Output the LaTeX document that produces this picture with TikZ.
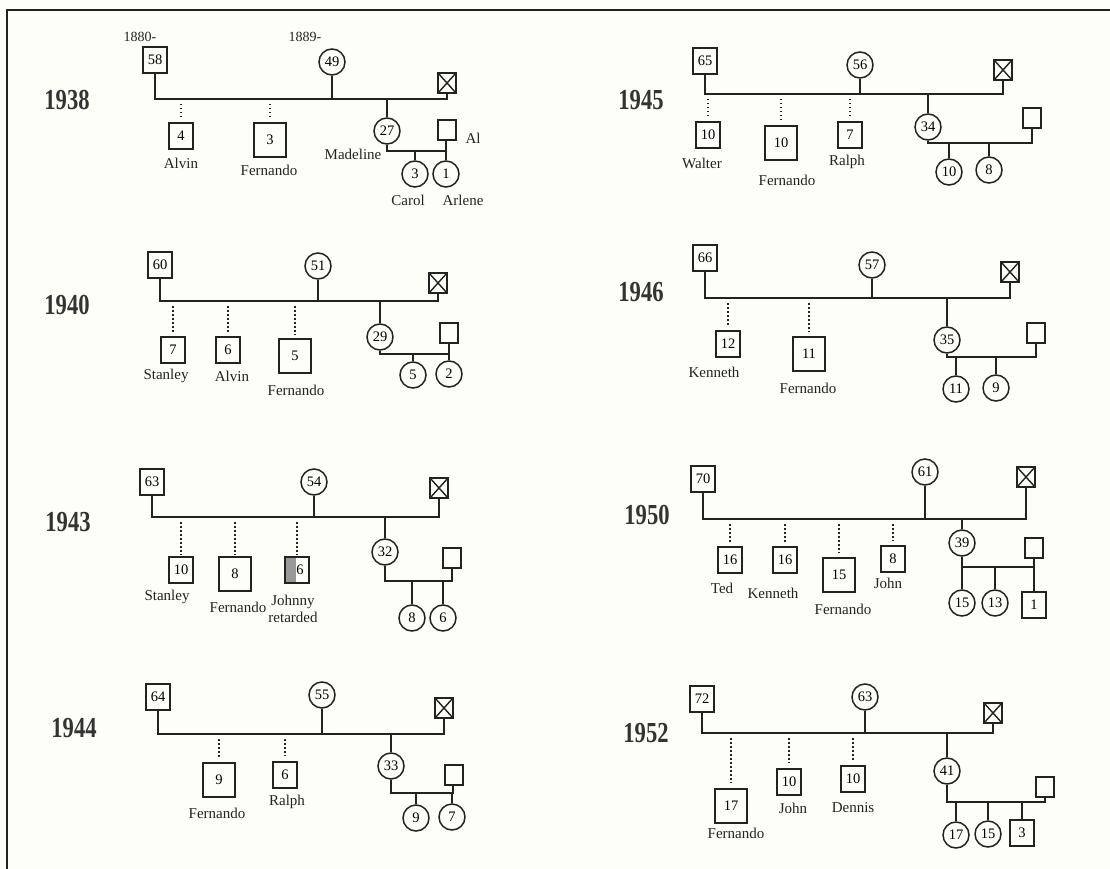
\documentclass[tikz,border=0pt]{standalone}
\usepackage{fontspec}
\setmainfont{Liberation Serif}
\usepackage{graphicx}
\usepackage{tikz}
\usetikzlibrary{positioning,calc}
\definecolor{paper}{HTML}{FEFEF8}
\definecolor{ink}{HTML}{222222}
\newcommand{\yearlab}[1]{\scalebox{0.78}[1]{\fontsize{29}{30}\selectfont\bfseries #1}}
\tikzset{
  male/.style={draw=ink, line width=1.5pt, minimum width=24pt, minimum height=26pt, inner sep=0pt, font=\fontsize{14.5}{14}\selectfont},
  malebig/.style={male, minimum width=32pt, minimum height=34pt},
  female/.style={circle, draw=ink, line width=1.5pt, minimum size=26pt, inner sep=0pt, font=\fontsize{14.5}{14}\selectfont},
  spouse/.style={male, minimum width=18pt, minimum height=20pt},
  dead/.style={spouse, path picture={\draw[ink, line width=1.4pt] (path picture bounding box.north west) -- (path picture bounding box.south east) (path picture bounding box.north east) -- (path picture bounding box.south west);}},
  slow/.style={male, path picture={\fill[black!40] (path picture bounding box.north west) rectangle ([xshift=-1pt]path picture bounding box.south);}},
  tie/.style={draw=ink, line width=1.5pt},
  sibdots/.style={draw=ink, line width=1.6pt, dash pattern=on 1.5pt off 2.5pt},
  who/.style={font=\fontsize{15}{17}\selectfont, inner sep=0pt, text=ink, align=center},
  born/.style={font=\fontsize{14}{14}\selectfont, inner sep=0pt, text=ink},
  year/.style={inner sep=0pt, text=black!80}
}

\begin{document}
\begin{tikzpicture}[x=1pt, y=-1pt]
  \useasboundingbox[fill=paper] (0,0) rectangle (1110,869);
  \draw[ink, line width=1.6pt] (7,869) -- (7,10) -- (1110,10);

  % 1938
  \node[year] (y38) at (67,100) {\yearlab{1938}};
  \node[male] (f38) at (155,60) {58};
  \node[born] (b38f) at (140,37) {1880-};
  \node[female] (m38) at (332,62) {49};
  \node[born] (b38m) at (305,37) {1889-};
  \node[dead] (x38) at (447,83) {};
  \coordinate (h38) at (447,99);
  \node[male] (c38a) at (181,136) {4};
  \node[who] (n38a) at (181,163) {Alvin};
  \node[malebig] (c38b) at (270,140) {3};
  \node[who] (n38b) at (269,170) {Fernando};
  \node[female] (d38) at (387,131) {27};
  \node[who] (n38d) at (353,154) {Madeline};
  \node[spouse] (s38) at (447,130) {};
  \node[who] (n38s) at (473,138) {Al};
  \coordinate (k38) at (446,151);
  \node[female] (g38a) at (415,174) {3};
  \node[female] (g38b) at (446,174) {1};
  \node[who] (n38g) at (408,200) {Carol};
  \node[who] (n38h) at (463,200) {Arlene};

  \draw[tie] (f38) |- (h38) -- (x38);
  \draw[tie] (m38) -- (m38 |- h38);
  \draw[tie] (d38) -- (d38 |- h38);
  \foreach \c in {c38a,c38b}
    \draw[sibdots] ([yshift=-5pt]\c |- h38) -- ([yshift=5pt]\c.north);
  \draw[tie] (d38) |- (k38) -- (k38 |- s38.south);
  \draw[tie] (g38a) -- (g38a |- k38);
  \draw[tie] (g38b) -- (g38b |- k38);

  % 1940
  \node[year] (y40) at (67,305) {\yearlab{1940}};
  \node[male] (f40) at (160,265) {60};
  \node[female] (m40) at (318,266) {51};
  \node[dead] (x40) at (438,283) {};
  \coordinate (h40) at (438,301);
  \node[male] (c40a) at (173,350) {7};
  \node[who] (n40a) at (166,376) {Stanley};
  \node[male] (c40b) at (228,350) {6};
  \node[who] (n40b) at (232,376) {Alvin};
  \node[malebig] (c40c) at (295,356) {5};
  \node[who] (n40c) at (296,390) {Fernando};
  \node[female] (d40) at (380,337) {29};
  \node[spouse] (s40) at (449,333) {};
  \coordinate (k40) at (449,354);
  \node[female] (g40a) at (413,375) {5};
  \node[female] (g40b) at (449,374) {2};

  \draw[tie] (f40) |- (h40) -- (x40);
  \draw[tie] (m40) -- (m40 |- h40);
  \draw[tie] (d40) -- (d40 |- h40);
  \foreach \c in {c40a,c40b,c40c}
    \draw[sibdots] ([yshift=-5pt]\c |- h40) -- ([yshift=4pt]\c.north);
  \draw[tie] (d40) |- (k40) -- (s40);
  \draw[tie] (g40a) -- (g40a |- k40);
  \draw[tie] (g40b) -- (g40b |- k40);

  % 1943
  \node[year] (y43) at (68,522) {\yearlab{1943}};
  \node[male] (f43) at (152,482) {63};
  \node[female] (m43) at (314,482) {54};
  \node[dead] (x43) at (439,488) {};
  \coordinate (h43) at (439,517);
  \node[male] (c43a) at (181,570) {10};
  \node[who] (n43a) at (167,597) {Stanley};
  \node[malebig] (c43b) at (235,574) {8};
  \node[who] (n43b) at (238,607) {Fernando};
  \node[slow] (c43c) at (297,570) {\hspace{6pt}6};
  \node[who] (n43c) at (293,609) {Johnny\\retarded};
  \node[female] (d43) at (385,552) {32};
  \node[spouse] (s43) at (452,558) {};
  \coordinate (k43) at (452,581);
  \node[female] (g43a) at (412,618) {8};
  \node[female] (g43b) at (443,618) {6};

  \draw[tie] (f43) |- (h43) -- (x43);
  \draw[tie] (m43) -- (m43 |- h43);
  \draw[tie] (d43) -- (d43 |- h43);
  \foreach \c in {c43a,c43b,c43c}
    \draw[sibdots] ([yshift=-5pt]\c |- h43) -- ([yshift=2pt]\c.north);
  \draw[tie] (d43) |- (k43) -- (s43);
  \draw[tie] (g43a) -- (g43a |- k43);
  \draw[tie] (g43b) -- (g43b |- k43);

  % 1944
  \node[year] (y44) at (74,728) {\yearlab{1944}};
  \node[male] (f44) at (158,697) {64};
  \node[female] (m44) at (322,695) {55};
  \node[dead] (x44) at (444,708) {};
  \coordinate (h44) at (444,734);
  \node[malebig] (c44a) at (219,780) {9};
  \node[who] (n44a) at (217,813) {Fernando};
  \node[male] (c44b) at (285,775) {6};
  \node[who] (n44b) at (287,802) {Ralph};
  \node[female] (d44) at (391,766) {33};
  \node[spouse] (s44) at (454,775) {};
  \coordinate (k44) at (453,793);
  \node[female] (g44a) at (416,818) {9};
  \node[female] (g44b) at (452,817) {7};

  \draw[tie] (f44) |- (h44) -- (x44);
  \draw[tie] (m44) -- (m44 |- h44);
  \draw[tie] (d44) -- (d44 |- h44);
  \foreach \c in {c44a,c44b}
    \draw[sibdots] ([yshift=-5pt]\c |- h44) -- ([yshift=5pt]\c.north);
  \draw[tie] (d44) |- (k44) -- (k44 |- s44.south);
  \draw[tie] (g44a) -- (g44a |- k44);
  \draw[tie] (g44b) -- (g44b |- k44);

  % 1945
  \node[year] (y45) at (641,100) {\yearlab{1945}};
  \node[male] (f45) at (705,61) {65};
  \node[female] (m45) at (860,65) {56};
  \node[dead] (x45) at (1003,70) {};
  \coordinate (h45) at (1003,94);
  \node[male] (c45a) at (708,135) {10};
  \node[who] (n45a) at (702,163) {Walter};
  \node[malebig] (c45b) at (781,143) {10};
  \node[who] (n45b) at (787,180) {Fernando};
  \node[male] (c45c) at (850,135) {7};
  \node[who] (n45c) at (847,162) {Ralph};
  \node[female] (d45) at (928,127) {34};
  \node[spouse] (s45) at (1032,118) {};
  \coordinate (k45) at (1032,143);
  \node[female] (g45a) at (949,172) {10};
  \node[female] (g45b) at (989,170) {8};

  \draw[tie] (f45) |- (h45) -- (x45);
  \draw[tie] (m45) -- (m45 |- h45);
  \draw[tie] (d45) -- (d45 |- h45);
  \foreach \c in {c45a,c45b,c45c}
    \draw[sibdots] ([yshift=-5pt]\c |- h45) -- ([yshift=4pt]\c.north);
  \draw[tie] (d45) |- (k45) -- (s45);
  \draw[tie] (g45a) -- (g45a |- k45);
  \draw[tie] (g45b) -- (g45b |- k45);

  % 1946
  \node[year] (y46) at (641,292) {\yearlab{1946}};
  \node[male] (f46) at (705,258) {66};
  \node[female] (m46) at (872,265) {57};
  \node[dead] (x46) at (1010,272) {};
  \coordinate (h46) at (1010,298);
  \node[male] (c46a) at (728,344) {12};
  \node[who] (n46a) at (714,372) {Kenneth};
  \node[malebig] (c46b) at (809,354) {11};
  \node[who] (n46b) at (808,388) {Fernando};
  \node[female] (d46) at (947,340) {35};
  \node[spouse] (s46) at (1036,333) {};
  \coordinate (k46) at (1036,357);
  \node[female] (g46a) at (956,389) {11};
  \node[female] (g46b) at (996,388) {9};

  \draw[tie] (f46) |- (h46) -- (x46);
  \draw[tie] (m46) -- (m46 |- h46);
  \draw[tie] (d46) -- (d46 |- h46);
  \foreach \c in {c46a,c46b}
    \draw[sibdots] ([yshift=-5pt]\c |- h46) -- ([yshift=4pt]\c.north);
  \draw[tie] (d46) |- (k46) -- (s46);
  \draw[tie] (g46a) -- (g46a |- k46);
  \draw[tie] (g46b) -- (g46b |- k46);

  % 1950
  \node[year] (y50) at (647,515) {\yearlab{1950}};
  \node[male] (f50) at (703,479) {70};
  \node[female] (m50) at (925,472) {61};
  \node[dead] (x50) at (1026,477) {};
  \coordinate (h50) at (1026,519);
  \node[male] (c50a) at (730,560) {16};
  \node[who] (n50a) at (722,588) {Ted};
  \node[male] (c50b) at (785,560) {16};
  \node[who] (n50b) at (773,593) {Kenneth};
  \node[malebig] (c50c) at (839,575) {15};
  \node[who] (n50c) at (843,609) {Fernando};
  \node[male] (c50d) at (893,559) {8};
  \node[who] (n50d) at (888,583) {John};
  \node[female] (d50) at (962,543) {39};
  \node[spouse] (s50) at (1034,548) {};
  \coordinate (k50) at (1034,567);
  \node[female] (g50a) at (962,603) {15};
  \node[female] (g50b) at (995,603) {13};
  \node[male] (g50c) at (1034,605) {1};

  \draw[tie] (f50) |- (h50) -- (x50);
  \draw[tie] (m50) -- (m50 |- h50);
  \draw[tie] (d50) -- (d50 |- h50);
  \foreach \c in {c50a,c50b,c50c,c50d}
    \draw[sibdots] ([yshift=-5pt]\c |- h50) -- ([yshift=4pt]\c.north);
  \draw[tie] (d50) |- (k50) -- (s50);
  \draw[tie] (g50a) -- (g50a |- k50);
  \draw[tie] (g50b) -- (g50b |- k50);
  \draw[tie] (g50c) -- (g50c |- k50);

  % 1952
  \node[year] (y52) at (646,733) {\yearlab{1952}};
  \node[male] (f52) at (702,699) {72};
  \node[female] (m52) at (865,697) {63};
  \node[dead] (x52) at (993,713) {};
  \coordinate (h52) at (993,733);
  \node[malebig] (c52a) at (731,806) {17};
  \node[who] (n52a) at (736,833) {Fernando};
  \node[male] (c52b) at (789,782) {10};
  \node[who] (n52b) at (793,808) {John};
  \node[male] (c52c) at (853,779) {10};
  \node[who] (n52c) at (853,808) {Dennis};
  \node[female] (d52) at (947,771) {41};
  \node[spouse] (s52) at (1045,787) {};
  \coordinate (k52) at (1045,802);
  \node[female] (g52a) at (956,835) {17};
  \node[female] (g52b) at (988,834) {15};
  \node[male] (g52c) at (1022,833) {3};

  \draw[tie] (f52) |- (h52) -- (x52);
  \draw[tie] (m52) -- (m52 |- h52);
  \draw[tie] (d52) -- (d52 |- h52);
  \foreach \c in {c52a,c52b,c52c}
    \draw[sibdots] ([yshift=-5pt]\c |- h52) -- ([yshift=5pt]\c.north);
  \draw[tie] (d52) |- (k52) -- (s52);
  \draw[tie] (g52a) -- (g52a |- k52);
  \draw[tie] (g52b) -- (g52b |- k52);
  \draw[tie] (g52c) -- (g52c |- k52);
\end{tikzpicture}
\end{document}
